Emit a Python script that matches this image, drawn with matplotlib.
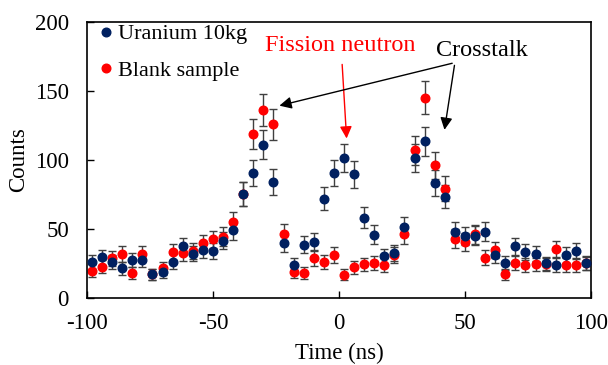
import numpy as np
import matplotlib
matplotlib.use('Agg')
import matplotlib.pyplot as plt

plt.rcParams['font.family'] = ['Liberation Serif', 'DejaVu Serif']
plt.rcParams['axes.unicode_minus'] = False

# time bins (ns)
time = np.arange(-98, 99, 4)

# counts
uranium = [25.8, 29.5, 26.0, 21.5, 27.5, 27.5, 17.0, 18.6, 26.3, 37.4,
           32.0, 34.5, 33.6, 41.5, 49.0, 75.0, 90.3, 110.9, 84.0, 39.6,
           23.7, 38.4, 40.8, 72.0, 90.3, 101.2, 89.4, 58.0, 45.9, 30.0,
           32.6, 51.7, 101.4, 113.5, 83.3, 73.4, 47.8, 44.7, 45.0, 48.0,
           30.7, 25.1, 37.4, 33.3, 32.1, 24.9, 23.7, 31.0, 33.8, 24.9]
blank = [19.8, 22.5, 28.7, 31.9, 18.0, 32.0, 17.0, 21.5, 33.3, 32.6,
         34.0, 39.6, 42.3, 44.4, 55.0, 75.0, 118.8, 136.2, 125.8, 46.4,
         18.6, 18.0, 28.7, 25.8, 31.0, 16.7, 22.2, 24.2, 25.6, 23.7,
         31.0, 46.1, 106.8, 145.2, 96.1, 79.2, 43.0, 40.6, 46.1, 29.0,
         34.5, 17.1, 25.4, 23.7, 24.2, 24.2, 35.5, 23.7, 23.7, 25.4]

uranium = np.array(uranium)
blank = np.array(blank)

fig, ax = plt.subplots(figsize=(6.08, 3.65), dpi=100)
fig.subplots_adjust(left=0.143, right=0.972, top=0.94, bottom=0.184)

# error bars (Poisson)
ax.errorbar(time, blank, yerr=np.sqrt(blank), fmt='none', ecolor='#404040',
            elinewidth=1, capsize=3, capthick=1, zorder=1)
ax.errorbar(time, uranium, yerr=np.sqrt(uranium), fmt='none', ecolor='#404040',
            elinewidth=1, capsize=3, capthick=1, zorder=1)
ax.plot(time, uranium, 'o', color='#002060', ms=6.2, label='Uranium 10kg', zorder=3)
ax.plot(time, blank, 'o', color='#ff0000', ms=6.2, label='Blank sample', zorder=2)

ax.set_xlim(-100, 100)
ax.set_ylim(0, 200)
ax.set_xticks([-100, -50, 0, 50, 100])
ax.set_yticks([0, 50, 100, 150, 200])
ax.tick_params(direction='in', length=5, labelsize=16.5, width=1)
ax.tick_params(axis='x', pad=11)
ax.tick_params(axis='y', pad=13)
for s in ax.spines.values():
    s.set_linewidth(1.2)

ax.set_xlabel('Time (ns)', fontsize=16.5, labelpad=6)
ax.set_ylabel('Counts', fontsize=16.5, labelpad=4)

ax.legend(loc='upper left', frameon=False, fontsize=16, handletextpad=0.0,
          labelspacing=0.72, borderaxespad=0.0, handlelength=1.1,
          bbox_to_anchor=(-0.005, 1.025))

# annotations
ax.text(0.4, 183, 'Fission neutron', color='red', fontsize=17.5, ha='center', va='center')
ax.annotate('', xy=(3.1, 113.5), xytext=(1.2, 171.2),
            arrowprops=dict(arrowstyle='-|>', color='red', lw=1, mutation_scale=18))
ax.text(56.7, 179, 'Crosstalk', color='black', fontsize=17.5, ha='center', va='center')
ax.annotate('', xy=(-24.7, 138.8), xytext=(46, 170.5),
            arrowprops=dict(arrowstyle='-|>', color='black', lw=1, mutation_scale=18))
ax.annotate('', xy=(41.7, 119.8), xytext=(46, 170.5),
            arrowprops=dict(arrowstyle='-|>', color='black', lw=1, mutation_scale=18))

fig.savefig('out.png', dpi=100)
